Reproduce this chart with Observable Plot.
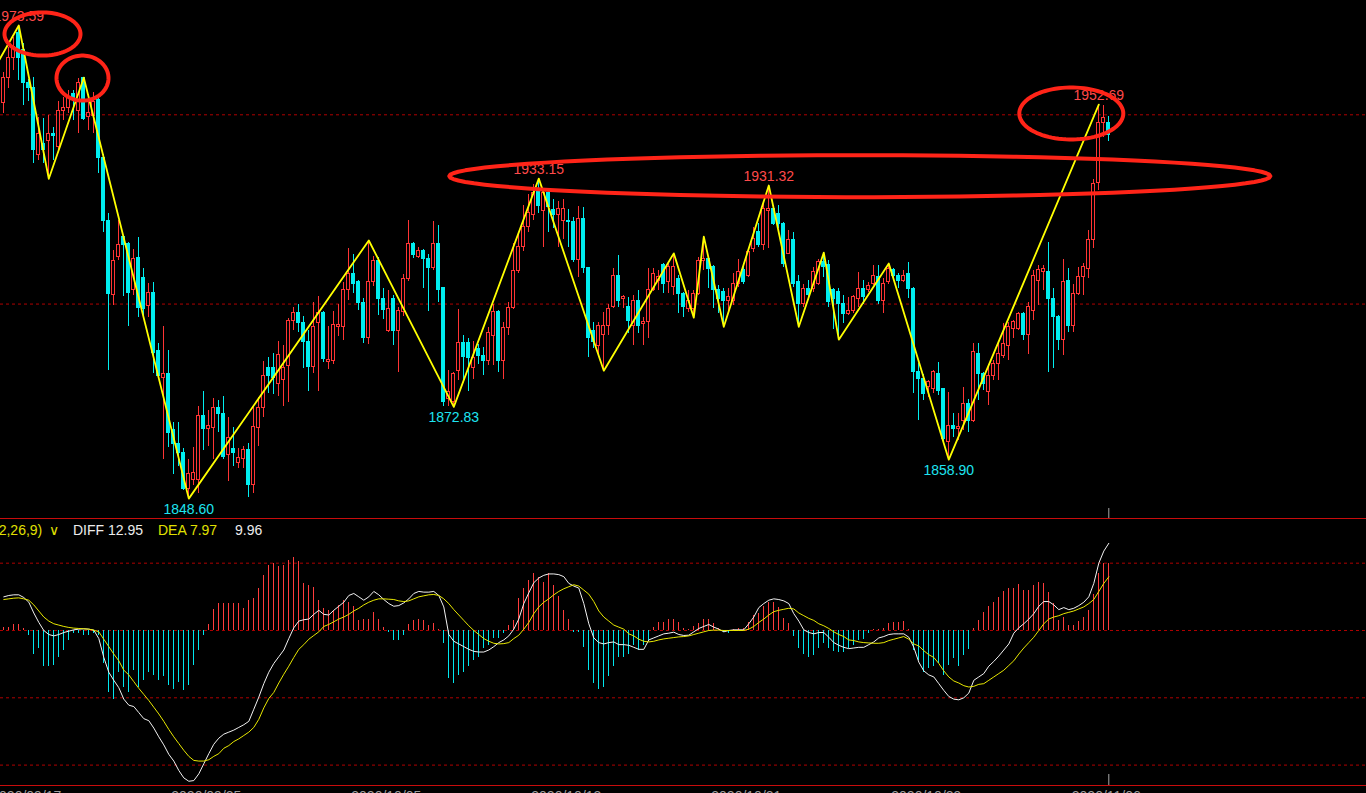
<!DOCTYPE html>
<html><head><meta charset="utf-8">
<script src="https://cdn.jsdelivr.net/npm/d3@7"></script>
<script src="https://cdn.jsdelivr.net/npm/@observablehq/plot@0.6"></script>
<style>
html,body{margin:0;padding:0;background:#000;overflow:hidden;width:1366px;height:793px;}
#wrap{position:relative;width:1366px;height:793px;overflow:hidden;background:#000;}
.sep{height:1px;background:#c80c0c;width:1366px;}
.lbl{position:absolute;top:522px;font:14px "Liberation Sans",Arial,sans-serif;line-height:16px;white-space:pre;}
svg{display:block}
</style></head><body><div id="wrap"></div>
<script>
// ---- candles (4H bars) ----
const opens = [
1953.0,1959.6,1965.1,1971.7,1967.0,1958.5,1957.2,1939.3,1942.4,1943.2,
1945.0,1941.4,1951.1,1951.7,1955.6,1951.1,1959.6,1949.3,1949.8,1953.8,
1938.7,1922.0,1902.3,1912.4,1917.6,1916.0,1903.6,1912.2,1907.0,1899.6,
1902.8,1887.7,1880.5,1881.6,1866.6,1863.1,1860.7,1851.2,1853.4,1853.4,
1870.5,1867.0,1867.3,1872.6,1871.0,1860.1,1861.8,1858.0,1859.0,1861.5,
1852.3,1867.3,1872.6,1883.2,1883.0,1878.8,1880.0,1883.6,1895.4,1897.6,
1895.0,1890.0,1883.5,1895.0,1897.6,1884.8,1885.0,1894.0,1894.0,1903.6,
1908.0,1905.7,1900.4,1891.0,1905.7,1911.5,1901.4,1892.8,1901.4,1893.0,
1897.8,1906.7,1916.0,1912.4,1914.0,1912.0,1909.4,1916.0,1904.2,1874.8,
1874.0,1882.4,1889.8,1889.6,1883.0,1888.0,1886.4,1885.0,1891.6,1897.8,
1885.0,1893.6,1899.0,1908.8,1915.0,1920.4,1923.5,1929.6,1924.6,1929.3,
1924.8,1923.4,1922.0,1922.0,1921.6,1911.7,1922.6,1909.4,1893.0,1889.0,
1891.7,1894.3,1899.2,1907.5,1901.4,1899.2,1894.3,1900.9,1894.8,1895.2,
1903.6,1906.2,1910.2,1905.8,1904.4,1906.7,1902.7,1898.7,1898.7,1902.7,
1911.5,1911.9,1909.7,1903.6,1903.1,1900.9,1900.9,1905.3,1908.9,1907.5,
1914.6,1919.0,1915.5,1924.7,1925.2,1923.8,1921.2,1913.3,1916.8,1905.8,
1900.0,1904.0,1904.0,1905.3,1911.1,1910.2,1903.6,1903.1,1900.0,1897.4,
1898.3,1901.4,1904.0,1903.6,1905.3,1907.1,1900.9,1905.8,1908.9,1907.5,
1906.2,1908.0,1904.0,1882.0,1880.2,1878.0,1877.6,1881.5,1877.6,1863.5,
1867.9,1867.0,1869.2,1873.6,1869.2,1886.8,1881.5,1876.7,1881.1,1884.2,
1886.4,1889.0,1893.4,1893.4,1897.4,1891.7,1898.3,1906.2,1908.4,1908.4,
1901.4,1896.5,1890.4,1906.2,1894.3,1902.7,1907.1,1909.3,1916.8,1931.9,
1947.9,1947.9];
const highs = [
1961.2,1967.8,1970.4,1973.59,1968.8,1959.4,1959.8,1949.2,1949.0,1949.8,
1946.6,1953.5,1954.6,1956.4,1956.4,1959.5,1959.8,1955.3,1955.9,1955.1,
1939.5,1923.9,1914.1,1922.0,1917.8,1916.3,1914.4,1917.6,1909.5,1905.4,
1905.7,1889.6,1894.0,1887.7,1868.7,1868.7,1861.8,1859.0,1862.0,1873.0,
1877.0,1872.0,1875.0,1874.5,1875.5,1870.0,1867.5,1861.8,1862.3,1863.1,
1872.8,1875.3,1884.8,1885.8,1887.0,1890.0,1889.0,1896.3,1899.0,1900.0,
1896.6,1893.0,1900.4,1902.0,1898.0,1894.0,1898.0,1900.0,1905.7,1914.6,
1913.0,1906.2,1901.4,1916.8,1912.6,1912.4,1904.0,1903.6,1902.3,1899.0,
1907.8,1922.0,1916.3,1914.9,1914.3,1913.0,1921.8,1920.7,1904.4,1882.5,
1882.0,1898.5,1891.7,1890.8,1890.0,1889.3,1888.5,1893.7,1900.0,1898.2,
1895.0,1900.4,1916.0,1919.0,1926.0,1929.0,1931.6,1933.15,1930.5,1930.5,
1927.6,1927.0,1927.6,1925.0,1922.8,1925.8,1925.6,1909.6,1895.0,1895.2,
1897.8,1900.0,1909.3,1912.8,1902.2,1901.8,1902.2,1903.6,1896.5,1909.3,
1909.3,1908.9,1910.6,1910.6,1913.4,1907.5,1903.1,1903.6,1903.6,1912.4,
1917.8,1912.0,1910.2,1904.9,1904.0,1904.0,1908.0,1911.9,1910.6,1914.6,
1920.3,1921.2,1926.5,1931.32,1926.0,1926.0,1921.6,1919.4,1919.0,1907.5,
1905.3,1906.2,1909.7,1911.9,1913.6,1911.5,1904.0,1904.0,1902.2,1901.8,
1902.2,1908.4,1906.2,1905.8,1910.2,1910.2,1906.7,1910.7,1909.3,1908.0,
1908.9,1911.1,1904.4,1884.2,1881.5,1879.8,1882.4,1884.6,1877.8,1876.7,
1871.0,1871.0,1878.0,1874.9,1889.5,1889.5,1882.0,1883.3,1885.1,1889.5,
1894.8,1895.2,1895.6,1897.8,1897.8,1900.5,1908.9,1910.2,1910.2,1916.3,
1904.0,1896.9,1911.9,1909.3,1905.3,1909.7,1910.6,1919.4,1933.0,1952.69,
1952.4,1949.5];
const lows = [
1950.3,1957.0,1961.7,1959.0,1952.5,1953.6,1937.1,1938.0,1937.1,1933.1,
1937.9,1940.6,1948.5,1950.3,1948.5,1945.0,1948.5,1945.9,1945.0,1934.5,
1918.9,1882.4,1899.7,1911.5,1902.0,1894.0,1902.3,1896.4,1896.0,1896.4,
1881.6,1880.0,1859.0,1862.0,1855.0,1857.0,1850.7,1848.6,1852.0,1849.9,
1861.3,1862.3,1859.0,1866.0,1859.0,1853.0,1857.0,1856.5,1856.5,1848.9,
1850.0,1862.3,1870.0,1876.4,1876.0,1875.5,1873.0,1874.0,1893.0,1892.6,
1883.0,1877.0,1881.6,1877.0,1884.5,1882.7,1884.0,1891.5,1890.3,1901.0,
1902.8,1898.2,1889.5,1889.3,1904.6,1896.9,1896.0,1892.5,1889.0,1882.0,
1896.6,1906.0,1912.0,1912.0,1904.0,1898.0,1909.0,1900.4,1873.0,1873.0,
1872.83,1879.8,1879.6,1877.0,1880.0,1884.0,1881.0,1883.8,1883.8,1882.0,
1880.0,1891.7,1898.5,1908.0,1913.8,1919.0,1922.0,1924.0,1915.0,1919.0,
1920.0,1915.0,1917.0,1915.0,1911.0,1907.0,1908.0,1886.0,1888.2,1886.8,
1882.4,1891.7,1898.7,1899.2,1898.7,1892.1,1889.0,1892.1,1889.0,1890.8,
1903.2,1903.6,1902.7,1902.7,1902.3,1897.4,1896.5,1897.8,1896.4,1902.3,
1908.9,1904.0,1898.7,1897.4,1894.0,1897.8,1899.6,1904.4,1905.3,1907.1,
1913.7,1915.0,1914.1,1914.6,1920.8,1919.9,1909.7,1913.0,1904.4,1894.0,
1899.2,1900.9,1903.1,1904.9,1907.1,1899.2,1893.4,1890.6,1894.8,1897.0,
1897.4,1899.2,1900.0,1903.1,1905.0,1900.0,1897.4,1905.3,1906.2,1904.0,
1905.8,1901.4,1876.3,1869.2,1874.5,1875.4,1876.3,1875.8,1863.0,1858.9,
1864.8,1863.9,1866.6,1866.1,1868.8,1874.5,1877.1,1873.2,1879.8,1879.8,
1885.5,1885.1,1890.8,1893.0,1890.3,1886.8,1895.6,1899.6,1903.6,1882.0,
1882.9,1887.7,1886.4,1892.5,1892.5,1902.3,1902.3,1906.7,1914.6,1930.0,
1944.0,1943.0];
const closes = [
1959.6,1965.1,1967.8,1965.1,1958.5,1957.0,1940.6,1945.0,1940.6,1945.0,
1944.5,1951.1,1951.9,1954.6,1953.8,1958.5,1949.0,1950.6,1953.3,1938.7,
1922.0,1902.6,1911.5,1915.5,1915.5,1902.8,1911.8,1899.0,1898.8,1902.8,
1887.2,1881.1,1881.6,1866.0,1863.1,1860.7,1851.2,1855.0,1855.3,1870.5,
1867.0,1867.8,1872.6,1871.0,1859.6,1864.6,1860.7,1859.4,1861.5,1852.3,
1867.5,1872.6,1881.1,1881.1,1880.6,1886.5,1883.0,1895.4,1897.6,1895.0,
1890.0,1883.5,1894.0,1897.6,1885.6,1885.3,1894.4,1894.4,1903.6,1908.0,
1905.4,1900.4,1891.0,1905.7,1911.5,1901.4,1898.5,1898.8,1893.0,1898.2,
1906.7,1916.0,1913.0,1914.0,1912.0,1909.4,1916.0,1903.6,1874.0,1876.9,
1881.4,1889.8,1886.0,1885.7,1885.7,1886.4,1885.0,1892.3,1897.8,1885.0,
1893.6,1899.0,1908.8,1915.0,1920.4,1924.0,1929.3,1926.0,1929.3,1925.6,
1923.6,1925.0,1925.0,1921.6,1911.7,1922.6,1909.4,1891.0,1890.0,1894.3,
1894.3,1898.7,1907.5,1900.9,1901.8,1895.6,1900.9,1894.3,1895.2,1903.6,
1908.0,1907.1,1905.3,1909.7,1909.7,1902.7,1899.2,1900.9,1902.7,1911.5,
1911.9,1909.3,1903.6,1901.4,1900.9,1901.8,1905.3,1908.4,1905.8,1913.7,
1917.2,1915.5,1925.2,1925.2,1921.2,1921.2,1910.6,1916.8,1905.3,1900.0,
1904.0,1902.3,1908.4,1911.1,1909.7,1900.5,1901.4,1900.0,1897.4,1898.3,
1901.8,1904.0,1901.8,1904.9,1907.5,1900.9,1905.3,1909.3,1907.5,1906.2,
1907.5,1904.0,1882.0,1880.2,1876.3,1879.3,1882.0,1877.1,1864.4,1867.9,
1867.0,1867.4,1873.6,1869.2,1887.3,1881.5,1878.9,1881.1,1884.2,1886.8,
1889.5,1893.9,1895.2,1897.4,1891.7,1899.2,1907.5,1908.9,1909.3,1901.4,
1896.5,1890.4,1905.8,1894.3,1902.7,1907.1,1909.7,1916.8,1931.8,1947.9,
1949.2,1944.6];

// ---- MACD(12,26,9) ----
const diffLine = [
5.0,5.2,5.3,5.3,4.9,4.2,2.6,1.2,0.0,-0.6,
-0.8,-0.6,-0.3,-0.1,0.1,0.2,0.25,0.2,0.05,-1.2,
-4.0,-6.2,-7.4,-8.5,-10.2,-11.1,-11.3,-12.2,-13.1,-13.4,
-14.5,-15.8,-17.0,-18.4,-19.4,-20.8,-21.9,-22.4,-22.3,-21.3,
-19.8,-18.3,-16.9,-16.0,-15.4,-15.1,-14.8,-14.4,-14.0,-13.5,
-11.7,-9.9,-7.9,-6.2,-4.9,-3.9,-2.9,-1.2,0.4,1.4,
1.6,1.7,2.4,3.0,2.4,2.3,3.0,3.6,4.2,5.2,
5.5,5.0,4.5,5.0,5.8,5.3,4.6,4.0,3.6,3.7,
4.1,4.7,5.5,5.8,5.7,5.7,5.8,5.2,3.5,-0.6,
-1.6,-2.0,-2.4,-2.8,-3.1,-3.2,-3.2,-2.9,-2.4,-1.8,
-1.4,-0.8,0.2,1.7,4.0,5.6,7.1,7.8,8.2,8.4,
8.4,8.3,8.0,7.0,6.6,6.3,4.0,1.0,-1.1,-1.8,
-2.0,-1.8,-1.7,-2.1,-2.1,-2.2,-2.5,-2.8,-2.8,-1.4,
-1.1,-0.8,-0.5,-0.4,-0.25,-0.6,-0.74,-0.7,-0.2,0.3,
0.6,0.89,0.5,0.2,-0.2,0.0,0.1,0.1,0.1,1.0,
2.0,3.4,4.0,4.5,4.7,4.6,4.4,4.0,2.5,1.4,
0.1,-0.3,-0.5,-0.3,-0.3,-1.0,-1.8,-2.2,-2.5,-2.7,
-2.6,-2.5,-2.5,-2.1,-1.7,-1.1,-0.9,-0.6,-0.5,-0.5,
-0.5,-1.0,-2.5,-4.7,-6.0,-6.6,-6.9,-7.9,-8.9,-9.8,
-10.2,-10.3,-10.0,-9.3,-7.4,-6.9,-6.4,-5.3,-4.6,-3.8,
-2.9,-2.0,-0.4,0.4,1.0,1.7,2.5,3.6,4.3,4.3,
3.8,3.1,3.4,3.1,3.3,3.7,4.2,5.0,7.0,10.0,
11.8,12.95];
const deaLine = [
4.6,4.7,4.8,4.85,4.7,4.5,3.8,2.9,2.0,1.4,
1.0,0.8,0.6,0.45,0.35,0.3,0.25,0.2,0.05,-0.2,
-1.3,-2.4,-3.5,-4.5,-5.9,-6.6,-7.6,-8.6,-9.5,-10.4,
-11.4,-12.4,-13.5,-14.7,-15.8,-16.8,-17.8,-18.7,-19.3,-19.4,
-19.4,-19.2,-18.7,-18.3,-17.5,-17.1,-16.5,-16.1,-15.6,-15.1,
-14.4,-13.2,-11.5,-10.1,-9.2,-7.8,-6.5,-5.3,-4.0,-2.8,
-2.1,-1.3,-0.74,-0.2,0.6,0.9,1.3,1.7,2.0,2.4,
2.9,3.3,3.8,4.2,4.5,4.7,4.7,4.65,4.6,4.4,
4.3,4.4,4.7,5.0,5.15,5.3,5.35,5.2,4.7,4.0,
3.1,2.3,1.5,0.7,0.0,-0.6,-1.2,-1.6,-1.9,-2.0,
-1.95,-1.8,-1.2,-0.7,0.2,1.2,2.5,3.5,4.2,4.7,
5.3,5.8,6.2,6.5,6.8,6.6,6.0,5.4,4.3,2.9,
2.0,1.4,0.8,0.5,0.2,-0.5,-0.8,-1.3,-1.6,-1.7,
-1.6,-1.4,-1.25,-1.15,-1.05,-0.95,-0.9,-0.8,-0.6,-0.4,
-0.2,0.0,0.05,0.05,0.0,0.0,0.0,0.0,0.0,0.2,
0.6,1.2,1.7,2.3,2.8,3.0,3.15,3.3,3.2,2.6,
2.2,1.8,1.5,1.0,0.7,0.3,-0.2,-0.6,-0.9,-1.4,
-1.5,-1.7,-1.8,-1.85,-1.9,-1.9,-1.8,-1.5,-1.3,-1.1,
-0.9,-1.3,-2.0,-2.3,-3.0,-3.6,-4.0,-4.9,-6.0,-6.9,
-7.5,-7.8,-8.2,-8.4,-8.3,-8.0,-7.9,-7.4,-6.9,-6.4,
-5.9,-5.2,-4.5,-3.5,-2.6,-1.8,-1.0,0.0,1.0,1.7,
2.0,2.2,2.5,2.7,2.9,3.2,3.5,4.0,4.6,5.8,
7.0,7.97];
const macdBars = [
0.5,0.4,0.9,0.9,0.3,-0.7,-3.6,-2.7,-5.4,-5.4,
-5.2,-4.0,-3.0,-1.5,-0.5,-0.5,-0.7,-0.7,-0.5,-0.7,
-4.9,-9.2,-10.2,-6.2,-8.4,-9.2,-5.9,-8.4,-7.4,-6.2,
-6.7,-7.4,-6.9,-8.2,-8.7,-7.7,-8.9,-8.2,-5.2,-3.0,
-0.7,0.9,3.1,4.0,4.0,4.0,4.0,4.0,3.3,4.5,
4.7,6.2,8.2,9.7,9.9,9.5,9.7,10.4,10.8,10.2,
7.0,6.7,6.4,4.5,3.2,3.0,3.0,3.7,4.5,4.2,
3.6,1.5,1.7,1.7,2.7,1.6,0.4,-0.3,-1.5,-1.5,
-0.7,0.9,1.5,1.6,1.5,0.7,1.0,0.2,-2.0,-7.2,
-7.9,-6.7,-6.2,-5.4,-4.5,-4.0,-2.7,-2.2,-1.2,-1.2,
-0.5,0.74,1.5,4.7,6.2,7.4,8.5,7.9,7.2,8.4,
6.7,5.0,3.0,1.7,-0.25,-0.25,-2.5,-6.0,-7.9,-8.7,
-8.4,-6.9,-5.4,-4.0,-4.0,-3.5,-2.2,-3.0,-2.2,-1.5,
0.5,1.2,1.2,1.7,1.7,1.2,0.3,0.2,0.6,1.1,
1.6,1.7,1.0,0.25,-0.3,-0.5,0.1,0.25,0.25,1.2,
2.3,2.5,3.6,4.2,4.2,3.4,1.8,1.0,-0.84,-2.7,
-3.5,-4.0,-3.7,-2.7,-2.0,-2.7,-3.1,-3.2,-3.3,-2.7,
-2.2,-1.5,-1.4,-0.5,0.2,0.1,0.25,1.1,1.2,1.2,
1.3,0.1,-3.0,-4.5,-6.2,-5.7,-5.4,-4.9,-6.7,-5.2,
-4.2,-5.3,-3.7,-2.8,0.25,1.5,2.7,3.6,4.2,4.95,
5.8,6.2,6.3,6.8,5.9,5.9,6.7,7.2,7.0,5.7,
4.0,1.5,2.0,0.74,0.74,1.3,2.0,3.0,5.35,8.4,
9.9,9.96];

// ---- zigzag pivots (bar index, price) ----
const pivotIdx = [-1,3,9,16,37,73,90,107,120,134,138,140,144,153,159,164,167,177,189,219];
const pivotVal = [1964.3,1973.59,1933.1,1959.8,1848.60,1916.8,1872.83,1933.15,1882.4,1913.4,1896.4,1917.8,1894.0,1931.32,1894.0,1913.6,1890.6,1910.7,1858.90,1952.69];

// ---- labelled extremes ----
const labelIdx = [3,37,90,107,153,189,219];
const labelVal = [1973.59,1848.60,1872.83,1933.15,1931.32,1858.90,1952.69];
const labelHigh = [true,false,false,true,true,false,true];

// ---- red hand-drawn rings (centre bar, centre price, radius in bars, radius in price) ----
const ringIdx = [7.74,15.74,171.2,213.5];
const ringVal = [1971.35,1959.7,1933.8,1950.35];
const ringRI  = [7.6,5.2,82.1,10.4];
const ringRV  = [5.7,5.95,5.55,6.87];

// ---- grids & date axis ----
const priceGrid = [1900,1950];
const macdGrid = [10,0,-10,-20];
const dateIdx = [4.5,40.5,76.5,112.5,148.5,184.5,220.5];
const dateText = ["2020/09/17","2020/09/25","2020/10/05","2020/10/13","2020/10/21","2020/10/29","2020/11/06"];

// ---- build ----
const RED = "#ff3434", CYAN = "#00eef0", GRID = "#b00000";
const N = opens.length;
const candles = d3.range(N).map(i => ({i, o: opens[i], h: highs[i], l: lows[i], c: closes[i], up: closes[i] >= opens[i]}));
const zig = pivotIdx.map((i, k) => ({i, p: pivotVal[k]}));
const labels = labelIdx.map((i, k) => ({i, p: labelVal[k], hi: labelHigh[k]}));
const ringPts = [];
ringIdx.forEach((ci, k) => {
  for (let t = 0; t <= 90; t++) {
    const a = 2 * Math.PI * t / 90;
    ringPts.push({k, x: ci + ringRI[k] * Math.cos(a), y: ringVal[k] + ringRV[k] * Math.sin(a)});
  }
});
const mrows = d3.range(N).map(i => ({i, diff: diffLine[i], dea: deaLine[i], h: macdBars[i]}));
const dates = dateIdx.map((i, k) => ({i, t: dateText[k]}));

const X = {domain: [-0.66, 272.54], axis: null};
const STYLE = {background: "#000", overflow: "visible"};
const FONT = "Liberation Sans, Arial, sans-serif";

const main = Plot.plot({
  width: 1366, height: 518, margin: 0,
  x: X, y: {domain: [1843.35, 1980.2], axis: null},
  color: {type: "identity"},
  style: STYLE,
  marks: [
    Plot.ruleY(priceGrid, {stroke: GRID, strokeDasharray: "3,3"}),
    Plot.ruleX(candles, {x: "i", y1: "l", y2: "h", stroke: d => d.up ? RED : CYAN, shapeRendering: "crispEdges"}),
    Plot.rect(candles, {x1: d => d.i - 0.32, x2: d => d.i + 0.32, y1: "o", y2: "c",
      fill: d => d.up ? "#000" : CYAN, stroke: d => d.up ? RED : CYAN, shapeRendering: "crispEdges"}),
    Plot.line(zig, {x: "i", y: "p", stroke: "#ffff00", strokeWidth: 1.8}),
    Plot.text(labels, {x: "i", y: "p", text: d => d.p.toFixed(2), fill: "#ff4a4a",
      fontSize: 14, fontFamily: FONT, filter: d => d.hi, dy: -9.5}),
    Plot.text(labels, {x: "i", y: "p", text: d => d.p.toFixed(2), fill: "#1ee4f0",
      fontSize: 14, fontFamily: FONT, filter: d => !d.hi, dy: 10.5}),
    Plot.line(ringPts, {x: "x", y: "y", z: "k", stroke: "#ff2418", strokeWidth: 4}),
    Plot.ruleX([N - 1], {insetTop: 508, stroke: "#a8a8a8"})
  ]
});

const macd = Plot.plot({
  width: 1366, height: 266, margin: 0,
  x: X, y: {domain: [-23.03, 16.49], axis: null},
  color: {type: "identity"},
  style: STYLE,
  marks: [
    Plot.ruleY(macdGrid, {stroke: GRID, strokeDasharray: "3,3"}),
    Plot.ruleX(mrows, {x: "i", y1: 0, y2: "h", stroke: d => d.h >= 0 ? "#ff3c3c" : "#00e6ee", shapeRendering: "crispEdges"}),
    Plot.line(mrows, {x: "i", y: "diff", stroke: "#f2f2f2", strokeWidth: 1}),
    Plot.line(mrows, {x: "i", y: "dea", stroke: "#e8e800", strokeWidth: 1}),
    Plot.ruleX([N - 1], {insetTop: 255, stroke: "#a8a8a8"})
  ]
});

const axis = Plot.plot({
  width: 1366, height: 7, margin: 0,
  x: X,
  style: STYLE,
  marks: [
    Plot.text(dates, {x: "i", text: "t", frameAnchor: "top", lineAnchor: "top", dy: 5, fill: "#9c9c9c", fontSize: 14, fontFamily: FONT})
  ]
});

const wrap = document.getElementById("wrap");
wrap.appendChild(main);
const s1 = document.createElement("div"); s1.className = "sep"; wrap.appendChild(s1);
wrap.appendChild(macd);
const s2 = document.createElement("div"); s2.className = "sep"; wrap.appendChild(s2);
wrap.appendChild(axis);

// MACD header (first characters run off the left edge as in the source)
const parts = [
  {t: "MACD(12,26,9)", left: -55, c: "#e0e000"},
  {t: "\u2228", left: 49, c: "#e0e000"},
  {t: "DIFF " + diffLine[N - 1].toFixed(2), left: 73, c: "#ececec"},
  {t: "DEA " + deaLine[N - 1].toFixed(2), left: 158, c: "#e0e000"},
  {t: macdBars[N - 1].toFixed(2), left: 235, c: "#ececec"}
];
parts.forEach(p => {
  const s = document.createElement("span");
  s.className = "lbl"; s.textContent = p.t; s.style.left = p.left + "px"; s.style.color = p.c;
  wrap.appendChild(s);
});
</script></body></html>
